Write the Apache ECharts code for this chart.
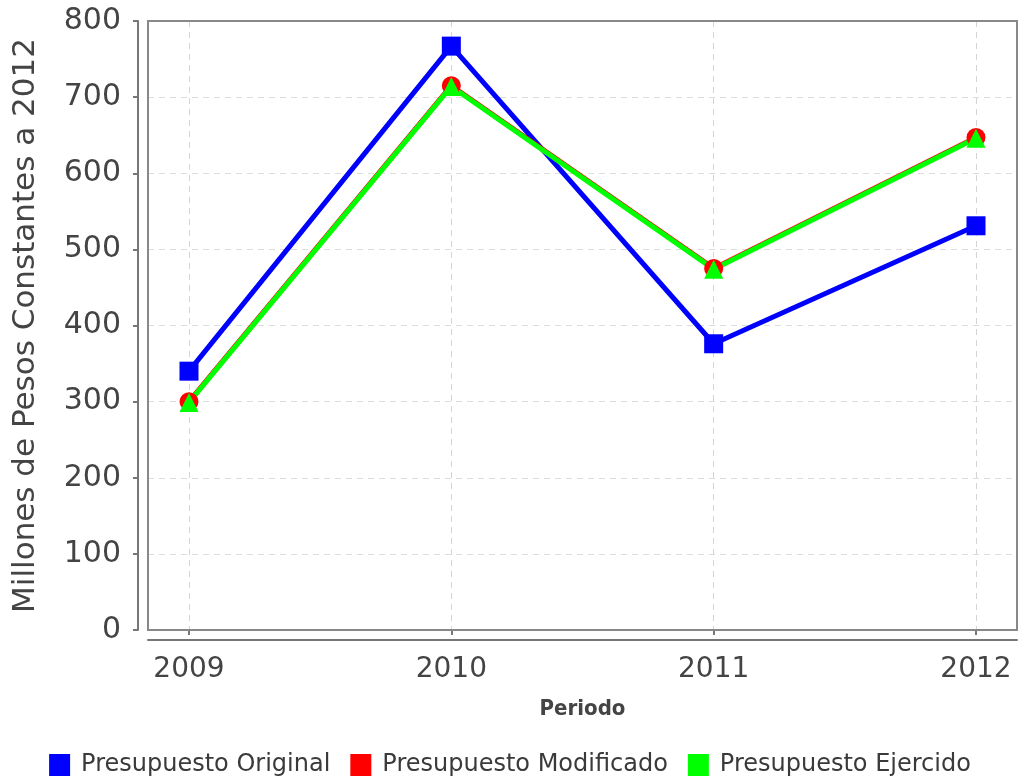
<!DOCTYPE html>
<html>
<head>
<meta charset="utf-8">
<script src="https://cdn.jsdelivr.net/npm/echarts@6/dist/echarts.min.js"></script>
<style>html,body{margin:0;padding:0;background:#fff;}#c{width:1020px;height:780px;}</style>
</head>
<body>
<div id="c"></div>
<script>
const categories = ['2009', '2010', '2011', '2012'];
const original = [340, 767, 376, 531];
const modificado = [300, 715, 475, 647];
const ejercido = [299, 714, 474, 646];
const seriesNames = ['Presupuesto Original', 'Presupuesto Modificado', 'Presupuesto Ejercido'];
const yTitle = 'Millones de Pesos Constantes a 2012';
const xTitle = 'Periodo';

const chart = echarts.init(document.getElementById('c'));
chart.setOption({
  animation: false,
  backgroundColor: '#fff',
  grid: [
    { left: 189, right: 44, top: 21, bottom: 150, show: false },
    { left: 148, right: 3, top: 21, bottom: 150, show: true, z: 10, borderColor: '#888', borderWidth: 2, backgroundColor: 'transparent' }
  ],
  legend: {
    bottom: -2, left: 'center',
    icon: 'rect', itemWidth: 21, itemHeight: 22, itemGap: 20,
    textStyle: { fontFamily: 'DejaVu Sans', fontSize: 24, color: '#3a3a3a', padding: [0, 0, 0, 6] },
    data: seriesNames
  },
  xAxis: [
    {
      type: 'category', gridIndex: 0, data: categories, boundaryGap: false, offset: 10,
      axisLine: { show: false },
      axisTick: { show: true, length: 5, lineStyle: { color: '#777', width: 2 } },
      axisLabel: { margin: 16, fontFamily: 'DejaVu Sans', fontSize: 28, color: '#444' },
      splitLine: { show: true, lineStyle: { color: '#d4d4d4', type: [6, 5], width: 1 } },
      name: xTitle, nameLocation: 'middle', nameGap: 58,
      nameTextStyle: { fontFamily: 'DejaVu Sans Condensed', fontSize: 22, fontWeight: 'bold', color: '#444' }
    },
    {
      type: 'value', gridIndex: 1, min: 0, max: 1, offset: 10,
      axisLine: { show: true, onZero: false, lineStyle: { color: '#777', width: 2 } },
      axisTick: { show: false }, axisLabel: { show: false }, splitLine: { show: false }
    }
  ],
  yAxis: [
    {
      type: 'value', gridIndex: 1, min: 0, max: 800, interval: 100, offset: 10,
      axisLine: { show: true, onZero: false, lineStyle: { color: '#777', width: 2 } },
      axisTick: { show: true, length: 5, lineStyle: { color: '#777', width: 2 } },
      axisLabel: { margin: 17, fontFamily: 'DejaVu Sans', fontSize: 30, color: '#444' },
      splitLine: { show: true, lineStyle: { color: '#ddd', type: [6, 5], width: 1 } },
      name: yTitle, nameLocation: 'middle', nameGap: 97,
      nameTextStyle: { fontFamily: 'DejaVu Sans', fontSize: 31, color: '#444' }
    },
    { type: 'value', gridIndex: 0, min: 0, max: 800, show: false }
  ],
  series: [
    { name: seriesNames[0], type: 'line', xAxisIndex: 0, yAxisIndex: 1, data: original,
      symbol: 'rect', symbolSize: 19, color: '#0000ff', lineStyle: { width: 5, color: '#0000ff' }, itemStyle: { color: '#0000ff' } },
    { name: seriesNames[1], type: 'line', xAxisIndex: 0, yAxisIndex: 1, data: modificado,
      symbol: 'circle', symbolSize: 19, color: '#ff0000', lineStyle: { width: 5, color: '#ff0000' }, itemStyle: { color: '#ff0000' } },
    { name: seriesNames[2], type: 'line', xAxisIndex: 0, yAxisIndex: 1, data: ejercido,
      symbol: 'triangle', symbolSize: 19, color: '#00ff00', lineStyle: { width: 5, color: '#00ff00' }, itemStyle: { color: '#00ff00' } }
  ]
});
</script>
</body>
</html>
